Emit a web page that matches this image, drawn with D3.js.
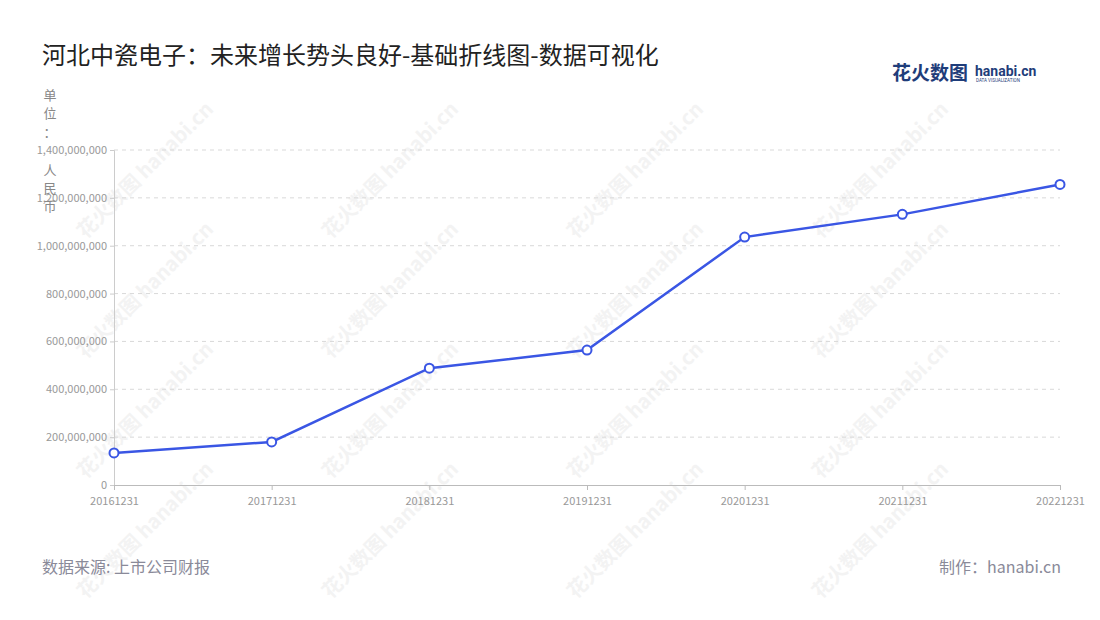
<!DOCTYPE html>
<html><head><meta charset="utf-8">
<script src="https://cdn.jsdelivr.net/npm/d3@7"></script>
<style>body{margin:0;background:#fff;font-family:"Noto Sans CJK SC","Noto Sans",sans-serif}</style>
</head><body><svg id="c" width="1100" height="620"></svg>
<script>
var dates = ["20161231","20171231","20181231","20191231","20201231","20211231","20221231"];
var revenue = [134e6, 180e6, 488e6, 564e6, 1036e6, 1131e6, 1256e6];
var yTicks = [0,2e8,4e8,6e8,8e8,10e8,12e8,14e8];

var svg = d3.select("#c");
var font = '"Noto Sans CJK SC","Noto Sans",sans-serif';

// watermarks
for (var i = 0; i < 4; i++) for (var j = 0; j < 4; j++) {
  svg.append("text").attr("transform", "translate(" + (150 + i*245) + "," + (175 + j*120) + ") rotate(-45)")
    .attr("fill", "#f3f3f3").attr("font-size", 20).attr("font-weight", "bold")
    .attr("font-family", font).attr("text-anchor", "middle").text("花火数图 hanabi.cn");
}

svg.append("text").attr("x", 42).attr("y", 64).attr("font-size", 24).attr("fill", "#222")
  .attr("font-family", font).text("河北中瓷电子：未来增长势头良好-基础折线图-数据可视化");

// logo
svg.append("text").attr("x", 892).attr("y", 80).attr("font-size", 19).attr("font-weight", "bold")
  .attr("fill", "#1f3d7a").attr("font-family", font).text("花火数图");
svg.append("text").attr("x", 975).attr("y", 76).attr("font-size", 14).attr("font-weight", "bold")
  .attr("fill", "#1f3d7a").attr("font-family", "Roboto, sans-serif").text("hanabi.cn");
svg.append("text").attr("x", 976).attr("y", 82).attr("font-size", 4.5)
  .attr("fill", "#1f3d7a").attr("font-family", "Roboto, sans-serif").text("DATA VISUALIZATION");

var x = d3.scalePoint().domain(dates).range([114, 1060]);
var y = d3.scaleLinear().domain([0, 14e8]).range([485, 150]);

var g = svg.append("g");
g.selectAll("line.grid").data(yTicks.slice(1)).enter().append("line")
  .attr("x1", 114).attr("x2", 1060).attr("y1", y).attr("y2", y)
  .attr("stroke", "#d9d9d9").attr("stroke-dasharray", "4,4");

var ya = svg.append("g").attr("transform", "translate(114,0)")
  .call(d3.axisLeft(y).tickValues(yTicks).tickFormat(d3.format(",")).tickSize(4));
ya.select(".domain").attr("stroke", "#ccc");
ya.selectAll(".tick line").attr("stroke", "#ccc");
ya.selectAll("text").attr("fill", "#999").attr("font-size", 11).attr("font-family", font);

var xa = svg.append("g").attr("transform", "translate(0,485)")
  .call(d3.axisBottom(x).tickSize(5));
xa.select(".domain").attr("stroke", "#bbb");
xa.selectAll(".tick line").attr("stroke", "#bbb");
xa.selectAll("text").attr("fill", "#999").attr("font-size", 11).attr("font-family", font).attr("dy", "1.1em");

var unit = ["单","位","：","人","民","币"];
var uy = [95,113,132,170,188,206];
unit.forEach(function(c, k){
  svg.append("text").attr("x", 50).attr("y", uy[k]+5).attr("text-anchor","middle")
    .attr("font-size", 13).attr("fill", "#888").attr("font-family", font).text(c);
});

var line = d3.line().x(function(d,i){return x(dates[i]);}).y(function(d){return y(d);});
svg.append("path").datum(revenue).attr("d", line).attr("fill", "none")
  .attr("stroke", "#3a56e4").attr("stroke-width", 2.5);
svg.selectAll("circle").data(revenue).enter().append("circle")
  .attr("cx", function(d,i){return x(dates[i]);}).attr("cy", y).attr("r", 4.5)
  .attr("fill", "#fff").attr("stroke", "#3a56e4").attr("stroke-width", 2);

svg.append("text").attr("x", 42).attr("y", 573).attr("font-size", 16).attr("fill", "#8a8a99")
  .attr("font-family", font).text("数据来源: 上市公司财报");
svg.append("text").attr("x", 1061).attr("y", 573).attr("font-size", 16).attr("fill", "#8a8a99")
  .attr("text-anchor", "end").attr("font-family", font).text("制作：hanabi.cn");
</script></body></html>
